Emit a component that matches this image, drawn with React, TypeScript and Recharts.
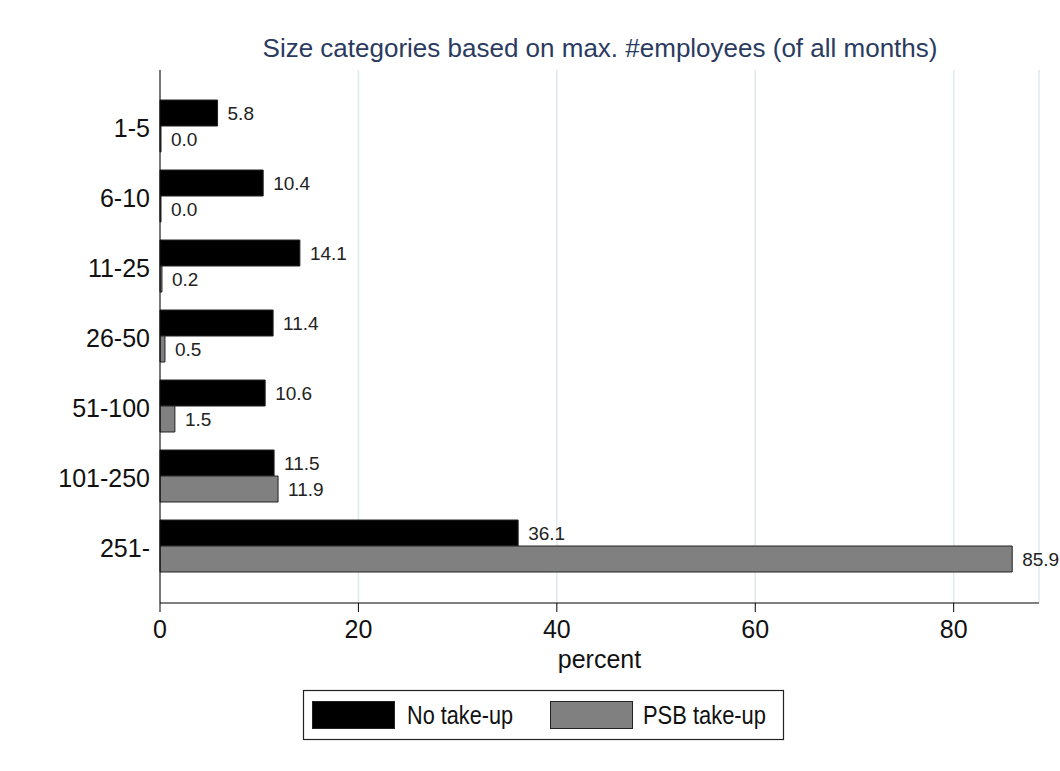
import React from "react";
import { BarChart, Bar, XAxis, YAxis, CartesianGrid, LabelList } from "recharts";

const sizeCategories = ["1-5", "6-10", "11-25", "26-50", "51-100", "101-250", "251-"];
const noTakeUp = [5.8, 10.4, 14.1, 11.4, 10.6, 11.5, 36.1];
const psbTakeUp = [0.0, 0.0, 0.2, 0.5, 1.5, 11.9, 85.9];
const percentTicks = [0, 20, 40, 60, 80];

const data = sizeCategories.map((size, i) => ({
  size,
  noTakeUp: noTakeUp[i],
  psbTakeUp: psbTakeUp[i],
}));

const FONT = "'Liberation Sans', Arial, Helvetica, sans-serif";
const NAVY = "#2a3b5f";
const GRAY = "#808080";

const YTick = ({ x, y, payload }: any) => (
  <text x={x} y={y} dy={11} textAnchor="end" fontSize={25} fontFamily={FONT} fill="#111">
    {payload.value}
  </text>
);

const XTick = ({ x, y, payload }: any) => (
  <text x={x} y={y} dy={26} textAnchor="middle" fontSize={25} fontFamily={FONT} fill="#111">
    {payload.value}
  </text>
);

const fmt = (v: any) => Number(v).toFixed(1);

const App: React.FC = () => {
  return (
    <div style={{ position: "absolute", left: 0, top: 0, width: 1060, height: 771, background: "#fff" }}>
      <BarChart
        width={1060}
        height={771}
        data={data}
        layout="vertical"
        margin={{ top: 70, right: 21, bottom: 88, left: 0 }}
        barSize={26}
        barGap={0}
      >
        <CartesianGrid horizontal={false} stroke="#dfeaee" strokeWidth={1.5} />
        <XAxis
          type="number"
          domain={[0, 88.6]}
          ticks={percentTicks}
          height={80}
          tickSize={9}
          tickMargin={0}
          tick={<XTick />}
          stroke="#000"
          label={(props: any) => {
            const vb = props.viewBox || {};
            return (
              <text
                x={(vb.x ?? 160) + (vb.width ?? 880) / 2}
                y={668}
                textAnchor="middle"
                fontSize={25}
                fontFamily={FONT}
                fill="#111"
              >
                percent
              </text>
            );
          }}
        />
        <YAxis
          type="category"
          dataKey="size"
          width={160}
          tickLine={false}
          tickSize={0}
          tickMargin={10}
          tick={<YTick />}
          padding={{ top: 21, bottom: 22 }}
          stroke="#000"
          interval={0}
        />
        <Bar dataKey="noTakeUp" name="No take-up" fill="#000" stroke="#222" strokeWidth={1} minPointSize={1} isAnimationActive={false}>
          <LabelList dataKey="noTakeUp" position="right" offset={10} formatter={fmt} fontSize={19} fontFamily={FONT} fill="#222" />
        </Bar>
        <Bar dataKey="psbTakeUp" name="PSB take-up" fill={GRAY} stroke="#222" strokeWidth={1} minPointSize={1} isAnimationActive={false}>
          <LabelList dataKey="psbTakeUp" position="right" offset={10} formatter={fmt} fontSize={19} fontFamily={FONT} fill="#222" />
        </Bar>
      </BarChart>

      <svg width={1060} height={771} style={{ position: "absolute", left: 0, top: 0, pointerEvents: "none" }}>
        <text x={600} y={57} textAnchor="middle" fontSize={26} fontFamily={FONT} fill={NAVY}>
          Size categories based on max. #employees (of all months)
        </text>
        <rect x={303.5} y={690.5} width={480} height={49} fill="#fff" stroke="#222" strokeWidth={1.2} />
        <rect x={312.5} y={701.5} width={82} height={27} fill="#000" stroke="#222" strokeWidth={1} />
        <text x={407} y={724} fontSize={26} fontFamily={FONT} fill="#111" textLength={106} lengthAdjust="spacingAndGlyphs">
          No take-up
        </text>
        <rect x={550.5} y={701.5} width={82} height={27} fill={GRAY} stroke="#222" strokeWidth={1} />
        <text x={643} y={724} fontSize={26} fontFamily={FONT} fill="#111" textLength={123} lengthAdjust="spacingAndGlyphs">
          PSB take-up
        </text>
      </svg>
    </div>
  );
};

export default App;
